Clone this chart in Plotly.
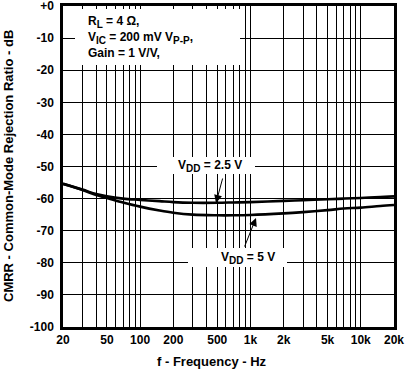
import numpy as np
import plotly.graph_objects as go

# ---- data ----
freq_hz = [20, 30, 40, 50, 70, 100, 150, 200, 300, 500, 700, 1000, 2000, 3000, 5000, 7000, 10000, 15000, 20000]
cmrr_vdd_2v5 = [-55.4, -57.2, -58.6, -59.3, -60.0, -60.4, -60.8, -61.1, -61.3, -61.3, -61.2, -61.1, -60.7, -60.5, -60.2, -60.0, -59.8, -59.5, -59.3]
cmrr_vdd_5v = [-55.4, -57.3, -58.9, -59.8, -61.2, -62.5, -63.7, -64.4, -65.0, -65.2, -65.2, -65.1, -64.6, -64.2, -63.6, -63.1, -62.8, -62.3, -62.0]

x_tick_vals = [20, 50, 100, 200, 500, 1000, 2000, 5000, 10000, 20000]
x_tick_text = ["20", "50", "100", "200", "500", "1k", "2k", "5k", "10k", "20k"]
x_grid_vals = [m * d for d in (10, 100, 1000, 10000) for m in range(1, 10) if 20 <= m * d <= 20000]
y_tick_vals = [0, -10, -20, -30, -40, -50, -60, -70, -80, -90, -100]
y_tick_text = ["+0", "-10", "-20", "-30", "-40", "-50", "-60", "-70", "-80", "-90", "-100"]

FONT = "Liberation Sans"
W, H = 410, 375
L, R, T, B = 63, 16, 6, 48
PW, PH = W - L - R, H - T - B


def px(x):
    return (x - L) / PW


def py(y):
    return (H - B - y) / PH


def sub(s):
    return "<sub><span style='font-size:10px'>" + s + "</span></sub>"


fig = go.Figure()
for vals in (cmrr_vdd_2v5, cmrr_vdd_5v):
    fig.add_trace(go.Scatter(x=freq_hz, y=vals, mode="lines",
                             line=dict(color="black", width=2.6, shape="spline"),
                             showlegend=False, hoverinfo="skip"))

# white boxes that hide the grid behind the labels
for (x0, y0, x1, y1) in [(75, 9, 240, 65), (157, 157, 255, 174), (188, 248, 287, 267)]:
    fig.add_shape(type="rect", xref="paper", yref="paper",
                  x0=px(x0), x1=px(x1), y0=py(y1), y1=py(y0),
                  fillcolor="white", line=dict(width=0), layer="above")

tf = dict(family=FONT, size=12, color="black", weight="bold")
ann = []
for txt, y in [("R" + sub("L") + " = 4 Ω,", 22),
               ("V" + sub("IC") + " = 200 mV V" + sub("P-P") + ",", 38),
               ("Gain = 1 V/V,", 53)]:
    ann.append(dict(text=txt, xref="paper", yref="paper", x=px(86), y=py(y),
                    xanchor="left", yanchor="middle", showarrow=False, font=tf))

ann.append(dict(text="V" + sub("DD") + " = 2.5 V", xref="paper", yref="paper", x=px(210), y=py(166),
                xanchor="center", yanchor="middle", showarrow=False, font=tf))
ann.append(dict(text="V" + sub("DD") + " = 5 V", xref="paper", yref="paper", x=px(248), y=py(258),
                xanchor="center", yanchor="middle", showarrow=False, font=tf))

# arrows
ann.append(dict(text="", xref="paper", yref="paper", x=px(216), y=py(203),
                ax=7, ay=-26, showarrow=True, arrowhead=2, arrowsize=1.6,
                arrowwidth=1, arrowcolor="black"))
ann.append(dict(text="", xref="paper", yref="paper", x=px(256), y=py(218),
                ax=-12, ay=30, showarrow=True, arrowhead=2, arrowsize=1.6,
                arrowwidth=1, arrowcolor="black"))

# axis titles
ann.append(dict(text="f - Frequency - Hz", xref="paper", yref="paper", x=px(212), y=py(362),
                xanchor="center", yanchor="middle", showarrow=False,
                font=dict(family=FONT, size=13, color="black", weight="bold")))
ann.append(dict(text="CMRR - Common-Mode Rejection Ratio - dB", xref="paper", yref="paper",
                x=px(8), y=py(166), textangle=-90, xanchor="center", yanchor="middle",
                showarrow=False, font=dict(family=FONT, size=13, color="black", weight="bold")))

fig.update_layout(
    width=W, height=H, margin=dict(l=L, r=R, t=T, b=B, autoexpand=False),
    paper_bgcolor="white", plot_bgcolor="white",
    annotations=ann,
    xaxis=dict(type="log", range=[np.log10(20), np.log10(20000)],
               tickvals=x_tick_vals, ticktext=x_tick_text, ticks="",
               showgrid=True, gridcolor="black", gridwidth=1,
               minor=dict(tickvals=x_grid_vals, showgrid=True, gridcolor="black", gridwidth=1, ticks=""),
               showline=True, linecolor="black", linewidth=2.5, mirror=True,
               tickfont=tf, zeroline=False, automargin=False, ticklabeloverflow="allow"),
    yaxis=dict(range=[-100, 0], tickvals=y_tick_vals, ticktext=y_tick_text, ticks="",
               showgrid=True, gridcolor="black", gridwidth=1,
               showline=True, linecolor="black", linewidth=2.5, mirror=True,
               tickfont=tf, zeroline=False, automargin=False, ticklabeloverflow="allow",
               ticklabelstandoff=4),
)

fig.write_html("out.html", config={"displayModeBar": False},
               post_script="document.body.style.margin='0';document.body.style.overflow='hidden';")
